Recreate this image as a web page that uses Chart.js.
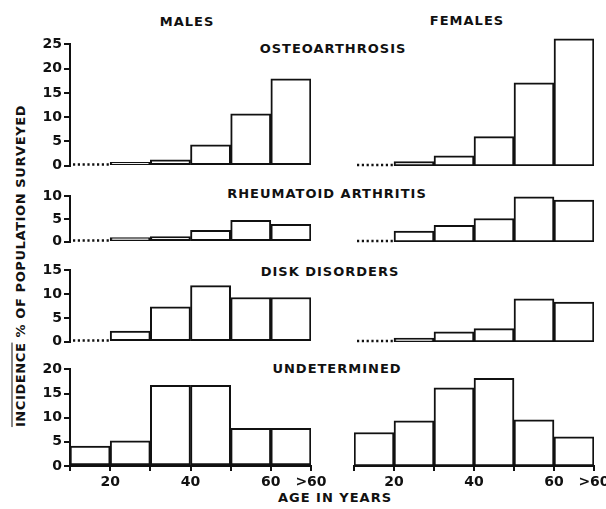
<!DOCTYPE html>
<html>
<head>
<meta charset="utf-8">
<script src="https://cdn.jsdelivr.net/npm/chart.js@4.4.0/dist/chart.umd.min.js"></script>
<style>
html, body { margin: 0; padding: 0; background: #fff; }
body { width: 606px; height: 509px; position: relative; overflow: hidden;
       font-family: 'DejaVu Sans', sans-serif; font-weight: bold; color: #111; }
canvas { position: absolute; }
.lbl { position: absolute; transform: translate(-50%, -50%); white-space: nowrap;
       font-size: 13px; letter-spacing: 1px; }
.ytitle { position: absolute; left: 20px; top: 266px; white-space: nowrap;
          transform: translate(-50%, -50%) rotate(-90deg); font-size: 13px; letter-spacing: 0.6px; }
</style>
</head>
<body>
<div class="lbl" style="left:187px;top:21px">MALES</div>
<div class="lbl" style="left:467px;top:20px">FEMALES</div>
<div class="lbl" style="left:333px;top:48px">OSTEOARTHROSIS</div>
<div class="lbl" style="left:327px;top:193px">RHEUMATOID ARTHRITIS</div>
<div class="lbl" style="left:330px;top:271px">DISK DISORDERS</div>
<div class="lbl" style="left:337px;top:368px">UNDETERMINED</div>
<div class="lbl" style="left:335px;top:497px">AGE IN YEARS</div>
<div class="ytitle"><span style="text-decoration:overline">INCIDENCE</span> % OF POPULATION SURVEYED</div>

<script>
// age bins (centres), 10-year wide, last one is ">60"
var binCentres = [15, 25, 35, 45, 55, 65];
var ageTicks = [10, 20, 30, 40, 50, 60, 70];
var ageLabels = ['', '20', '', '40', '', '60', '>60'];

// incidence, % of population surveyed (null = no cases, dotted)
var osteoMales   = [null, 0.7, 1.2, 4.3, 10.7, 17.9];
var osteoFemales = [null, 0.9, 2.1, 6.0, 17.0, 26.0];
var rheumMales   = [null, 0.9, 1.1, 2.5, 4.7, 3.8];
var rheumFemales = [null, 2.4, 3.6, 5.1, 9.8, 9.1];
var diskMales    = [null, 2.2, 7.3, 11.8, 9.3, 9.3];
var diskFemales  = [null, 0.8, 2.1, 2.8, 9.0, 8.3];
var undetMales   = [4.1, 5.2, 16.7, 16.7, 7.8, 7.8];
var undetFemales = [6.9, 9.3, 16.1, 18.1, 9.5, 6.0];

var maleMax = [25, 10, 15, 20];
var femaleMax = [27, 10, 15, 20];

// layout: where the zero line and the male axis top sit on the page
var rows = [
    {zeroY: 166, topY: 44,  m: osteoMales, f: osteoFemales},
    {zeroY: 242, topY: 196, m: rheumMales, f: rheumFemales},
    {zeroY: 342, topY: 270, m: diskMales,  f: diskFemales},
    {zeroY: 466, topY: 369, m: undetMales, f: undetFemales}
];

var INK = '#111';
Chart.defaults.font.family = "'DejaVu Sans', sans-serif";
Chart.defaults.font.weight = 'bold';
Chart.defaults.font.size = 14;
Chart.defaults.color = INK;

var dottedGap = {
    id: 'dottedGap',
    afterDatasetsDraw: function (chart) {
        var d = chart.data.datasets[0].data;
        if (d[0].y !== null) return;
        var xs = chart.scales.x, ys = chart.scales.y, ctx = chart.ctx;
        var y = ys.getPixelForValue(0) - 1;
        ctx.save();
        ctx.strokeStyle = INK;
        ctx.lineWidth = 2.5;
        ctx.setLineDash([2.2, 2.6]);
        ctx.beginPath();
        ctx.moveTo(xs.getPixelForValue(10) + 3, y);
        ctx.lineTo(xs.getPixelForValue(20) - 1, y);
        ctx.stroke();
        ctx.restore();
    }
};

function makePanel(values, isMale, rowIdx) {
    var row = rows[rowIdx];
    var isBottom = rowIdx === rows.length - 1;
    var ppu = (row.zeroY - row.topY) / maleMax[rowIdx];
    var max = isMale ? maleMax[rowIdx] : femaleMax[rowIdx];
    var areaTop = Math.round(row.zeroY - max * ppu);
    var padTop = 10, padBottom = isBottom ? 0 : 10, xAxisH = isBottom ? 26 : 0;
    var areaLeft = isMale ? 70 : 354, areaRight = isMale ? 311 : 594;
    var padLeft = isMale ? 0 : 10, yAxisW = isMale ? 30 : 0, padRight = 20;

    var cv = document.createElement('canvas');
    var left = areaLeft - yAxisW - padLeft;
    cv.width = areaRight - left + padRight;
    cv.height = padTop + (row.zeroY - areaTop) + padBottom + xAxisH;
    cv.style.left = left + 'px';
    cv.style.top = (areaTop - padTop) + 'px';
    document.body.appendChild(cv);

    var pts = [];
    for (var i = 0; i < binCentres.length; i++) pts.push({x: binCentres[i], y: values[i]});

    new Chart(cv, {
        type: 'bar',
        data: {
            datasets: [{
                data: pts,
                backgroundColor: '#fff',
                borderColor: INK,
                borderWidth: 2,
                borderSkipped: false,
                barPercentage: 1,
                categoryPercentage: 1
            }]
        },
        options: {
            responsive: false,
            animation: false,
            devicePixelRatio: 1,
            layout: {padding: {top: padTop, bottom: padBottom, left: padLeft, right: padRight}},
            plugins: {legend: {display: false}, tooltip: {enabled: false}},
            scales: {
                x: {
                    type: 'linear',
                    display: isBottom,
                    min: 10, max: 70,
                    offset: false,
                    afterBuildTicks: function (s) { s.ticks = ageTicks.map(function (v) { return {value: v}; }); },
                    afterFit: function (s) { s.height = xAxisH; },
                    ticks: {
                        stepSize: 10, padding: 3, maxRotation: 0, autoSkip: false,
                        callback: function (v) { return ageLabels[ageTicks.indexOf(v)]; }
                    },
                    grid: {drawOnChartArea: false, drawTicks: true, tickLength: 5, color: INK, lineWidth: 2, offset: false},
                    border: {display: true, color: INK, width: 2}
                },
                y: {
                    display: isMale,
                    min: 0, max: max,
                    afterFit: function (s) { s.width = yAxisW; },
                    ticks: {stepSize: 5, padding: 2},
                    grid: {drawOnChartArea: false, drawTicks: true, tickLength: 6, color: INK, lineWidth: 2},
                    border: {display: true, color: INK, width: 2}
                }
            }
        },
        plugins: [dottedGap]
    });
}

for (var r = 0; r < rows.length; r++) {
    makePanel(rows[r].m, true, r);
    makePanel(rows[r].f, false, r);
}
</script>
</body>
</html>
